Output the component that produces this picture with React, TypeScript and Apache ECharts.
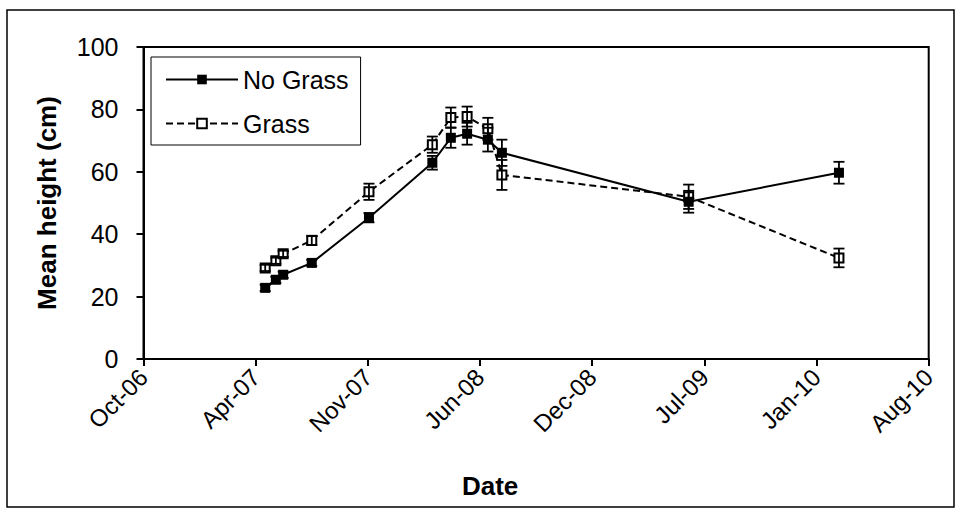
import React, { useEffect, useRef } from "react";
import * as echarts from "echarts";

const dates = [
  "2007-05-15", "2007-06-03", "2007-06-16", "2007-08-06", "2007-11-16", "2008-03-08",
  "2008-04-10", "2008-05-09", "2008-06-15", "2008-07-10", "2009-06-08", "2010-03-03",
];
const noGrass = [22.8, 25.4, 27.0, 30.8, 45.3, 62.9, 70.9, 72.2, 70.3, 66.1, 50.4, 59.7];
const noGrassErr = [1, 1, 1, 1, 1.5, 2.2, 3.2, 3.5, 3.8, 4.2, 3.5, 3.5];
const grass = [29.2, 31.5, 33.7, 38.0, 53.6, 68.7, 77.4, 77.7, 73.8, 59.0, 52.0, 32.4];
const grassErr = [1, 1, 1, 1.5, 2.6, 2.6, 3.2, 3.2, 3.5, 4.8, 3.9, 3];
const seriesNames = ["No Grass", "Grass"];
const months = ["Jan", "Feb", "Mar", "Apr", "May", "Jun", "Jul", "Aug", "Sep", "Oct", "Nov", "Dec"];

// Excel-style serial day numbers for the date axis
const toSerial = (s: string) => {
  const [y, m, d] = s.split("-").map(Number);
  return Date.UTC(y, m - 1, d) / 86400000 + 25569;
};
const fmtSerial = (v: number) => {
  const dt = new Date((v - 25569) * 86400000);
  return months[dt.getUTCMonth()] + "-" + String(dt.getUTCFullYear() % 100).padStart(2, "0");
};

const FONT = "'Liberation Sans', Arial, sans-serif";

export default function App() {
  const ref = useRef<HTMLDivElement>(null);
  useEffect(() => {
    if (!ref.current) return;
    const chart = echarts.init(ref.current, undefined, { renderer: "svg" });
    const xs = dates.map(toSerial);
    const errRender = (params: any, api: any) => {
      const x = api.value(0);
      const y = api.value(1);
      const e = api.value(2);
      const top = api.coord([x, y + e]);
      const bot = api.coord([x, y - e]);
      const hw = 5.5;
      const st = { stroke: "#000", lineWidth: 1.8 };
      return {
        type: "group",
        children: [
          { type: "line", shape: { x1: top[0], y1: top[1], x2: bot[0], y2: bot[1] }, style: st },
          { type: "line", shape: { x1: top[0] - hw, y1: top[1], x2: top[0] + hw, y2: top[1] }, style: st },
          { type: "line", shape: { x1: bot[0] - hw, y1: bot[1], x2: bot[0] + hw, y2: bot[1] }, style: st },
        ],
      };
    };
    chart.setOption({
      animation: false,
      backgroundColor: "#fff",
      textStyle: { fontFamily: FONT, color: "#000" },
      grid: {
        left: 143.5, right: 30.3, top: 47, bottom: 151,
        show: true, borderColor: "#000", borderWidth: 2, backgroundColor: "transparent",
      },
      legend: {
        left: 151, top: 57,
        orient: "vertical",
        data: seriesNames,
        borderColor: "#000", borderWidth: 1,
        padding: [10, 12, 9, 14],
        itemGap: 19,
        itemWidth: 72,
        itemHeight: 12,
        textStyle: { fontSize: 25, fontFamily: FONT, color: "#000" },
      },
      xAxis: {
        type: "value",
        min: 39000, max: 40400, interval: 200,
        name: "Date",
        nameLocation: "middle",
        nameGap: 114,
        nameTextStyle: { fontSize: 26, fontWeight: "bold", fontFamily: FONT, color: "#000", padding: [0, 92, 0, 0] },
        splitLine: { show: false },
        axisLine: { lineStyle: { color: "#000", width: 2 } },
        axisTick: { show: true, inside: false, length: 7, lineStyle: { color: "#000", width: 2 } },
        axisLabel: {
          rotate: 45, fontSize: 24, color: "#000", fontFamily: FONT, margin: 14,
          formatter: (v: number) => fmtSerial(v),
          showMinLabel: true, showMaxLabel: true,
        },
      },
      yAxis: {
        type: "value",
        min: 0, max: 100, interval: 20,
        name: "Mean height (cm)",
        nameLocation: "middle",
        nameGap: 84,
        nameTextStyle: { fontSize: 26, fontWeight: "bold", fontFamily: FONT, color: "#000" },
        splitLine: { show: false },
        axisLine: { show: true, lineStyle: { color: "#000", width: 2 } },
        axisTick: { show: true, inside: false, length: 7, lineStyle: { color: "#000", width: 2 } },
        axisLabel: { fontSize: 25, color: "#000", fontFamily: FONT, margin: 25 },
      },
      series: [
        {
          name: seriesNames[0],
          type: "line",
          data: xs.map((x, i) => [x, noGrass[i]]),
          symbol: "rect",
          symbolSize: 10,
          itemStyle: { color: "#000" },
          lineStyle: { color: "#000", width: 2 },
          z: 3,
        },
        {
          name: seriesNames[1],
          type: "line",
          data: xs.map((x, i) => [x, grass[i]]),
          symbol: "emptyRect",
          symbolSize: 9,
          itemStyle: { color: "#000", borderWidth: 1.6 },
          lineStyle: { color: "#000", width: 2, type: [7, 4] },
          z: 2,
        },
        {
          type: "custom",
          name: "No Grass error",
          renderItem: errRender,
          data: xs.map((x, i) => [x, noGrass[i], noGrassErr[i]]),
          z: 4,
          silent: true,
        },
        {
          type: "custom",
          name: "Grass error",
          renderItem: errRender,
          data: xs.map((x, i) => [x, grass[i], grassErr[i]]),
          z: 4,
          silent: true,
        },
      ],
      graphic: [
        {
          type: "rect",
          shape: { x: 7, y: 10, width: 947, height: 497 },
          style: { fill: "none", stroke: "#000", lineWidth: 1.5 },
          silent: true,
        },
      ],
    });
    return () => chart.dispose();
  }, []);
  return (
    <div
      ref={ref}
      style={{ position: "fixed", left: 0, top: 0, width: 959, height: 510, background: "#fff" }}
    />
  );
}
